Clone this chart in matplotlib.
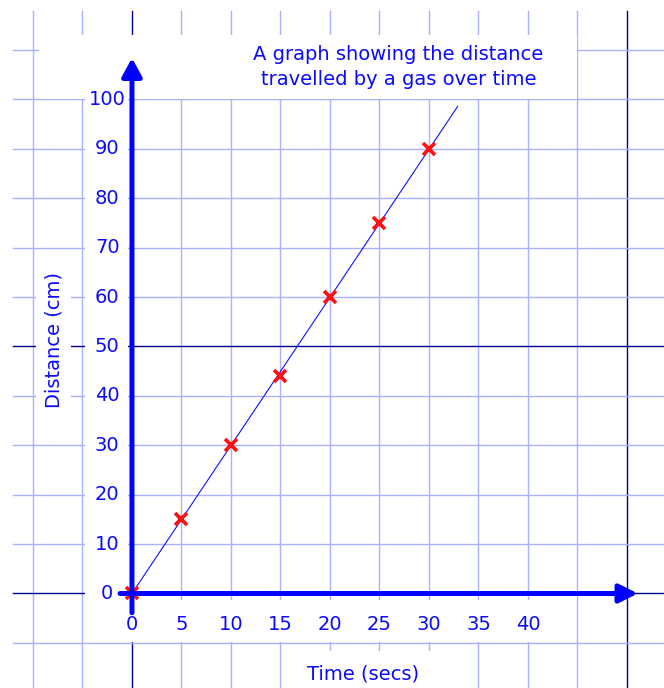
import numpy as np
import matplotlib
matplotlib.use("Agg")
import matplotlib.pyplot as plt
from matplotlib.patches import Rectangle, FancyArrowPatch

# data
time_s = [0, 5, 10, 15, 20, 25, 30]
distance_cm = [0, 15, 30, 44, 60, 75, 90]
fit_x = [0, 32.9]
fit_y = [0, 98.6]
xticks = [0, 5, 10, 15, 20, 25, 30, 35, 40]
yticks = [0, 10, 20, 30, 40, 50, 60, 70, 80, 90, 100]
title = "A graph showing the distance\ntravelled by a gas over time"

blue = "#0a0aff"
gridc = "#aab0ff"
navy = "#00008f"
plt.rcParams['font.family'] = ['DejaVu Sans']

fig = plt.figure(figsize=(6.64, 6.88), dpi=100)
ax = fig.add_axes([0, 0, 1, 1])
ax.set_xlim(-13.33, 53.74)
ax.set_ylim(-19.13, 120.14)
ax.axis('off')

# graph paper
for gx in np.arange(-10, 51, 5):
    c = navy if gx in (0, 50) else gridc
    ax.plot([gx, gx], [-20, 117.9], color=c, lw=1.0, zorder=1)
for gy in np.arange(-10, 111, 10):
    c = navy if gy in (0, 50) else gridc
    ax.plot([-12.0, 54], [gy, gy], color=c, lw=1.0, zorder=1)

# white masks behind the texts
ax.add_patch(Rectangle((-9.4, 100.1), 54.35, 12.96, fc='white', ec='none', zorder=2))
ax.add_patch(Rectangle((-1.7, -9.8), 43.9, 8.5, fc='white', ec='none', zorder=2))
ax.add_patch(Rectangle((-4.7, -1.3), 4.3, 103.0, fc='white', ec='none', zorder=2))

# best fit line and points
ax.plot(fit_x, fit_y, color='#1010ff', lw=0.8, zorder=3)
ax.plot(time_s, distance_cm, 'x', color='#ff1010', ms=9, mew=2.6, zorder=4)

# axes with arrows
ya = FancyArrowPatch((0, -3.9), (0, 108.4), arrowstyle='-|>,head_length=11,head_width=6',
                     mutation_scale=1, lw=3.6, color='#0000ff', shrinkA=0, shrinkB=0, zorder=5)
xa = FancyArrowPatch((-1.2, 0), (51.1, 0), arrowstyle='-|>,head_length=11,head_width=5.5',
                     mutation_scale=1, lw=3.6, color='#0000ff', shrinkA=0, shrinkB=0, zorder=5)
ax.add_patch(ya)
ax.add_patch(xa)

# tick labels
for v in yticks:
    ax.text(-2.5, v, str(v), ha='center', va='center', fontsize=14, color=blue, zorder=6)
for v in xticks:
    ax.text(v, -6.2, str(v), ha='center', va='center', fontsize=14, color=blue, zorder=6)

ax.text(-7.9, 51.3, "Distance (cm)", rotation=90, ha='center', va='center', fontsize=14,
        color=blue, zorder=6, bbox=dict(boxstyle='square,pad=0.4', fc='white', ec='none'))
ax.text(23.3, -16.3, "Time (secs)", ha='center', va='center', fontsize=14, color=blue,
        zorder=6, bbox=dict(boxstyle='square,pad=0.7', fc='white', ec='none'))
ax.text(26.9, 106.6, title, ha='center', va='center', fontsize=14, color=blue,
        linespacing=1.45, zorder=6)

fig.savefig("out.png", dpi=100)
